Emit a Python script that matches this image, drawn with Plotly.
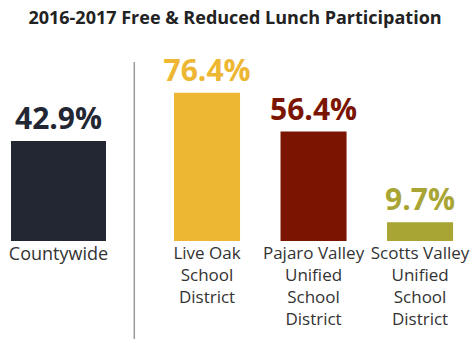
import plotly.graph_objects as go

title_text = "2016-2017 Free & Reduced Lunch Participation"
county_label = ["Countywide"]
county_value = [42.9]
district_labels = ["Live Oak<br>School<br>District",
                   "Pajaro Valley<br>Unified<br>School<br>District",
                   "Scotts Valley<br>Unified<br>School<br>District"]
district_values = [76.4, 56.4, 9.7]

county_color = "#222733"
district_colors = ["#EDB734", "#7B1502", "#A9A535"]

W, H = 470, 339
top, bottom = 40, 98
plot_h = H - top - bottom

fig = go.Figure()
fig.add_trace(go.Bar(
    x=county_label, y=county_value, xaxis="x", yaxis="y",
    marker=dict(color=county_color, line=dict(width=0)),
    width=0.8,
    text=[f"{v}%" for v in county_value], textposition="outside",
    textfont=dict(family="Open Sans", size=30, color=county_color),
    texttemplate="<b>%{text}</b>", constraintext="none",
    cliponaxis=False, hoverinfo="skip",
))
fig.add_trace(go.Bar(
    x=district_labels, y=district_values, xaxis="x2", yaxis="y2",
    marker=dict(color=district_colors, line=dict(width=0)),
    width=0.62,
    text=[f"{v}%" for v in district_values], textposition="outside",
    textfont=dict(family="Open Sans", size=30, color=district_colors),
    texttemplate="<b>%{text}</b>", constraintext="none",
    cliponaxis=False, hoverinfo="skip",
))

county_scale = 100 / 42.9   # px per percent
district_scale = 1.94

fig.update_layout(
    width=W, height=H,
    margin=dict(l=0, r=0, t=top, b=bottom, pad=0),
    paper_bgcolor="white", plot_bgcolor="white",
    showlegend=False,
    title=dict(text="<b>" + title_text + "</b>", x=0.5, xanchor="center",
               y=1 - 18 / H, yanchor="middle",
               font=dict(family="Open Sans", size=18, color="#222222")),
    xaxis=dict(domain=[0, 0.27], range=[-0.4926, 0.576],
               showgrid=False, zeroline=False, showline=False, ticks="",
               tickfont=dict(family="Open Sans", size=18, color="#333333")),
    yaxis=dict(domain=[0, 1], range=[0, plot_h / county_scale],
               visible=False),
    xaxis2=dict(domain=[0.3, 1.0], range=[-0.62, 2.469], anchor="y2",
                showgrid=False, zeroline=False, showline=False, ticks="",
                tickfont=dict(family="Open Sans", size=17, color="#333333")),
    yaxis2=dict(domain=[0, 1], range=[0, plot_h / district_scale],
                anchor="x2", visible=False),
    shapes=[dict(type="line", xref="paper", yref="paper",
                 x0=134.3 / W, x1=134.3 / W,
                 y0=(H - bottom - 62) / plot_h, y1=(H - bottom - H) / plot_h,
                 line=dict(color="#9A9A9A", width=1.5))],
)

fig.write_html("out.html")
